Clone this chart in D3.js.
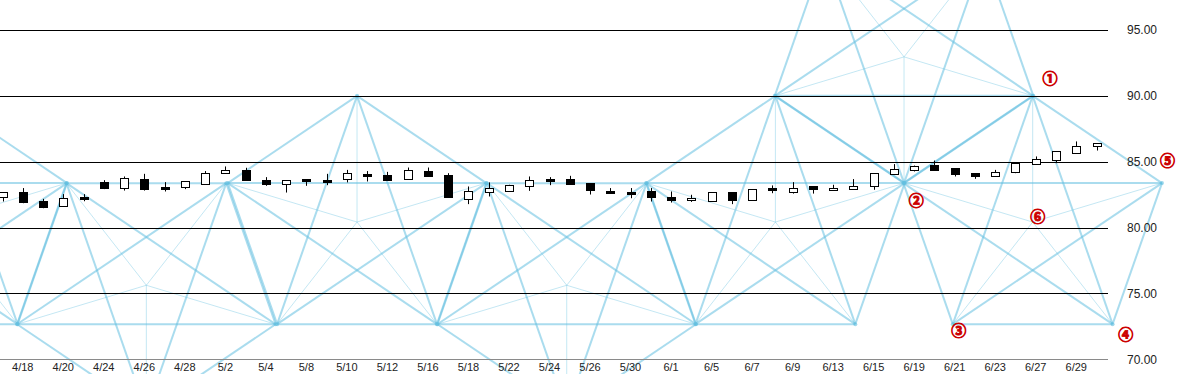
<!DOCTYPE html>
<html><head><meta charset="utf-8">
<script src="https://cdn.jsdelivr.net/npm/d3@7"></script>
<style>body{margin:0;background:#fff;overflow:hidden}svg{display:block}</style>
</head><body>
<script>
// ---- data ----
const dates = ["4/17","4/18","4/19","4/20","4/21","4/24","4/25","4/26","4/27","4/28",
  "5/1","5/2","5/3","5/4","5/5","5/8","5/9","5/10","5/11","5/12",
  "5/15","5/16","5/17","5/18","5/19","5/22","5/23","5/24","5/25","5/26",
  "5/29","5/30","5/31","6/1","6/2","6/5","6/6","6/7","6/8","6/9",
  "6/12","6/13","6/14","6/15","6/16","6/19","6/20","6/21","6/22","6/23",
  "6/26","6/27","6/28","6/29","6/30"];
const openV  = [82.31,82.69,82.03,81.60,82.30,83.45,82.99,83.68,83.06,83.07,
  83.30,84.13,84.36,83.60,83.30,83.68,83.64,83.70,84.08,84.00,
  83.68,84.29,84.00,82.20,82.66,82.77,83.17,83.70,83.68,83.37,
  82.76,82.73,82.77,82.31,82.05,81.98,82.69,82.05,82.98,82.71,
  83.12,82.84,82.92,83.12,84.06,84.38,84.76,84.51,84.13,83.91,
  84.21,84.84,85.07,85.73,86.16];
const highV  = [82.70,83.00,82.18,82.54,82.54,83.60,83.88,84.08,83.45,83.50,
  84.29,84.64,84.54,83.83,83.60,83.68,84.08,84.38,84.29,84.23,
  84.56,84.56,84.13,83.12,83.43,83.25,83.88,83.83,83.93,83.37,
  83.00,83.00,83.00,82.74,82.49,82.69,82.69,82.92,83.20,83.45,
  83.12,83.25,83.68,84.13,84.82,84.71,85.09,84.51,84.13,84.38,
  84.89,85.40,85.78,86.54,86.41];
const lowV   = [81.98,81.85,81.47,81.60,82.00,82.92,82.81,82.81,82.74,82.92,
  83.25,84.13,83.58,83.17,82.66,83.17,83.22,83.43,83.50,83.62,
  83.68,83.93,82.31,81.78,82.36,82.77,82.79,83.22,83.32,82.51,
  82.56,82.23,81.98,81.90,81.95,81.98,81.78,82.05,82.61,82.58,
  82.58,82.84,82.92,82.87,84.06,84.26,84.31,83.88,83.70,83.91,
  84.13,84.84,84.89,85.73,85.85];
const closeV = [82.69,81.93,81.60,82.23,82.26,82.99,83.75,82.94,83.03,83.50,
  84.13,84.38,83.62,83.32,83.60,83.55,83.60,84.13,83.95,83.62,
  84.38,83.93,82.36,82.79,82.99,83.25,83.62,83.57,83.32,82.87,
  82.73,82.70,82.28,82.10,82.23,82.69,82.10,82.92,82.96,83.04,
  82.87,83.02,83.17,84.13,84.44,84.71,84.38,84.08,83.93,84.23,
  84.89,85.20,85.78,86.23,86.41];
const yTicks = [70,75,80,85,90,95];

// pentagram overlay: center (date index, price), orientation
const starKind   = ["up","down","up","down","up","down","up"];
const starIdx    = [-3.2, 7.1, 17.5, 27.85, 38.15, 44.5, 50.85];
const starVal    = [80.42, 75.62, 80.42, 75.62, 80.42, 92.96, 80.42];
const starRadIdx = 6.71;   // radius in date-index units
const starRadVal = 9.58;   // radius in price units

// circled markers
const markText = ["①","②","③","④","⑤","⑥"];
const markIdx  = [51.7, 45.1, 47.2, 55.45, 57.5, 51.1];
const markVal  = [91.3, 82.0, 72.2, 71.9, 85.1, 80.8];

// ---- chart ----
const W = 1193, H = 374;
const svg = d3.select("body").append("svg").attr("width", W).attr("height", H);
const x = d3.scaleLinear().domain([0, 54]).range([2.5, 1096.5]);
const y = d3.scaleLinear().domain([70, 95]).range([359.3, 30]);
const gridRight = 1108;

// overlay lines
const blue = "rgb(100,192,224)";
const gLines = svg.append("g");
starKind.forEach((k, s) => {
  const base = k === "up" ? 90 : 270;
  const verts = d3.range(5).map(j => {
    const a = (base - 72 * j) * Math.PI / 180;
    return [starIdx[s] + starRadIdx * Math.cos(a), starVal[s] + starRadVal * Math.sin(a)];
  });
  verts.forEach(v => {
    gLines.append("line")
      .attr("x1", x(starIdx[s])).attr("y1", y(starVal[s]))
      .attr("x2", x(v[0])).attr("y2", y(v[1]))
      .attr("stroke", blue).attr("stroke-opacity", 0.38).attr("stroke-width", 1);
  });
  for (let i = 0; i < 5; i++) for (let j = i + 1; j < 5; j++) {
    gLines.append("line")
      .attr("x1", x(verts[i][0])).attr("y1", y(verts[i][1]))
      .attr("x2", x(verts[j][0])).attr("y2", y(verts[j][1]))
      .attr("stroke", blue).attr("stroke-opacity", 0.55).attr("stroke-width", 2);
  }
  verts.forEach(v => {
    gLines.append("circle").attr("cx", x(v[0])).attr("cy", y(v[1])).attr("r", 2)
      .attr("fill", blue).attr("fill-opacity", 0.6);
  });
});

// grid lines
svg.append("g").selectAll("line").data(yTicks).join("line")
  .attr("x1", 0).attr("x2", gridRight)
  .attr("y1", d => Math.round(y(d)) + 0.5).attr("y2", d => Math.round(y(d)) + 0.5)
  .attr("stroke", d => d === 70 ? "#8a8a8a" : "#000").attr("stroke-width", 1);

// y labels
svg.append("g").selectAll("text").data(yTicks).join("text")
  .attr("x", 1127).attr("y", d => y(d)).attr("dy", "0.35em")
  .attr("font-family", "Liberation Sans, Arial, sans-serif").attr("font-size", 12)
  .attr("fill", "#222").text(d => d.toFixed(2));

// x labels (every other trading day)
svg.append("g").selectAll("text").data(dates.map((d, i) => ({d, i})).filter(o => o.i % 2 === 1)).join("text")
  .attr("x", o => x(o.i)).attr("y", 371).attr("text-anchor", "middle")
  .attr("font-family", "Liberation Sans, Arial, sans-serif").attr("font-size", 11)
  .attr("fill", "#222").text(o => o.d);

// candles
const gC = svg.append("g");
dates.forEach((d, i) => {
  const cx = Math.round(x(i)) + 0.5;
  gC.append("line").attr("x1", cx).attr("x2", cx)
    .attr("y1", y(highV[i])).attr("y2", y(lowV[i]))
    .attr("stroke", "#000").attr("stroke-width", 1);
  const top = y(Math.max(openV[i], closeV[i]));
  const bot = y(Math.min(openV[i], closeV[i]));
  const hgt = Math.max(2, bot - top);
  const down = closeV[i] < openV[i];
  gC.append("rect").attr("x", cx - 4).attr("y", Math.round(top) + 0.5)
    .attr("width", 8).attr("height", Math.round(hgt))
    .attr("fill", down ? "#000" : "#fff").attr("stroke", "#000").attr("stroke-width", 1);
});

// markers
svg.append("g").selectAll("text").data(markText).join("text")
  .attr("x", (t, i) => x(markIdx[i])).attr("y", (t, i) => y(markVal[i]))
  .attr("text-anchor", "middle").attr("dy", "0.35em")
  .attr("font-family", "Noto Sans CJK JP, sans-serif").attr("font-size", 15).attr("font-weight", "bold")
  .attr("fill", "#cc0000").attr("stroke", "#cc0000").attr("stroke-width", 0.9).text(t => t);
</script>
</body></html>
